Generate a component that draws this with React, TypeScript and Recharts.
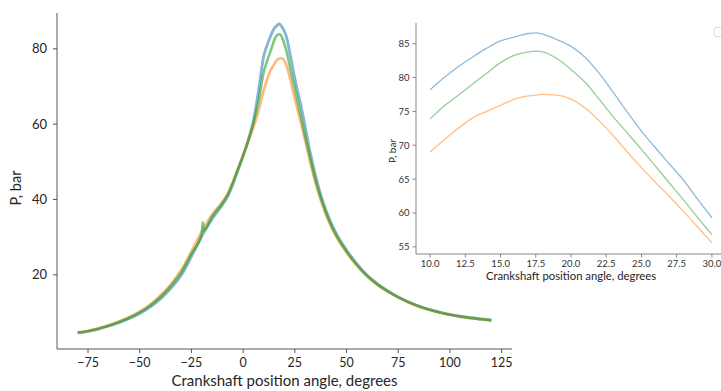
import React from 'react';
import { LineChart, Line, XAxis, YAxis, Label } from 'recharts';

// crank angle, degrees
const angles = [
  -80, -75, -70, -65, -60, -55, -50, -45, -40, -35, -30, -25, -20, -19.5, -19, -15, -10, -7.5, -5, -2.5,
  0, 2.5, 5, 7.5, 10, 11, 12, 13, 14, 15, 16, 17, 17.5, 18, 19, 20, 21, 22, 23, 24, 25, 26, 27, 28, 29, 30,
  32.5, 35, 37.5, 40, 42.5, 45, 50, 55, 60, 65, 70, 75, 80, 85, 90, 95, 100, 105, 110, 115, 120,
];

// pressure, bar
const blueP = [
  4.6, 5.0, 5.6, 6.4, 7.3, 8.4, 9.7, 11.4, 13.6, 16.4, 19.8, 24.8, 30.2, 30.7, 31.2, 34.8, 38.6, 40.8, 44.0, 47.8,
  51.5, 55.8, 61.0, 69.0, 78.2, 80.0, 81.6, 83.0, 84.3, 85.4, 86.0, 86.5, 86.6, 86.4, 85.6, 84.6, 83.0, 80.6, 77.8, 74.9, 72.1, 69.6, 67.2, 64.8, 62.0, 59.3,
  52.3, 46.3, 41.3, 37.2, 33.8, 31.0, 26.6, 22.9, 19.9, 17.6, 15.7, 14.1, 12.8, 11.7, 10.8, 10.1, 9.5, 9.0, 8.6, 8.3, 8.0,
];
const orangeP = [
  4.6, 5.1, 5.8, 6.6, 7.6, 8.8, 10.2, 12.1, 14.5, 17.5, 21.2, 26.2, 31.5, 32.0, 32.5, 36.0, 39.4, 41.5, 44.6, 48.2,
  51.8, 55.4, 59.2, 63.6, 69.0, 70.8, 72.5, 74.0, 75.0, 75.9, 76.8, 77.3, 77.4, 77.5, 77.4, 76.8, 75.5, 73.6, 71.4, 69.0, 66.7, 64.5, 62.4, 60.2, 57.9, 55.6,
  49.6, 44.3, 39.8, 36.0, 32.8, 30.1, 25.9, 22.4, 19.5, 17.3, 15.5, 14.0, 12.7, 11.6, 10.7, 10.0, 9.4, 8.9, 8.5, 8.2, 7.9,
];
const greenP = [
  4.7, 5.1, 5.7, 6.5, 7.5, 8.6, 10.0, 11.8, 14.1, 17.0, 20.6, 25.6, 30.9, 34.0, 31.8, 35.5, 39.0, 41.2, 44.4, 48.0,
  51.7, 55.7, 60.3, 66.2, 73.9, 75.8, 77.4, 79.0, 80.6, 82.2, 83.3, 83.8, 83.9, 83.8, 82.8, 81.2, 79.3, 76.8, 74.2, 71.8, 69.4, 66.9, 64.4, 61.9, 59.3, 56.8,
  50.8, 45.2, 40.5, 36.6, 33.3, 30.5, 26.2, 22.6, 19.7, 17.4, 15.6, 14.0, 12.7, 11.6, 10.7, 10.0, 9.4, 8.9, 8.5, 8.2, 7.9,
];

const mainTicksX = [-75, -50, -25, 0, 25, 50, 75, 100, 125];
const mainTicksY = [20, 40, 60, 80];
const insetTicksX = [10, 12.5, 15, 17.5, 20, 22.5, 25, 27.5, 30];
const insetTicksY = [55, 60, 65, 70, 75, 80, 85];

const rows = angles.map((a, i) => ({ angle: a, blue: blueP[i], orange: orangeP[i], green: greenP[i] }));
const insetRows = rows.filter(r => r.angle >= 10 && r.angle <= 30);

const FONT = 'Lato, "Open Sans", sans-serif';
const BLUE = '#1f77b4';
const ORANGE = '#ff7f0e';
const GREEN = '#2ca02c';

const minusFmt = (v: number) => (v < 0 ? '\u2212' + Math.abs(v) : String(v));

export default function App() {
  return (
    <div style={{ position: 'absolute', left: 0, top: 0, width: 721, height: 391, overflow: 'hidden', background: '#fff', fontFamily: FONT }}>
      <LineChart width={721} height={391} data={rows} margin={{ top: 13, right: 209, left: 7, bottom: 0 }}>
        <XAxis
          dataKey="angle"
          type="number"
          domain={[-90, 130]}
          ticks={mainTicksX}
          tickFormatter={minusFmt}
          height={42}
          stroke="#555"
          tickSize={4}
          tickMargin={5}
          tick={{ fill: '#262626', fontSize: 12.5, fontFamily: FONT }}
        >
          <Label value="Crankshaft position angle, degrees" position="insideBottom" offset={5} fill="#262626" fontSize={15} fontFamily={FONT} />
        </XAxis>
        <YAxis
          type="number"
          domain={[0.3, 89.5]}
          ticks={mainTicksY}
          width={50}
          stroke="#555"
          tickSize={4}
          tickMargin={6}
          tick={{ fill: '#262626', fontSize: 13, fontFamily: FONT }}
        >
          <Label
            content={() => (
              <text x={15} y={188} transform="rotate(-90 15 188)" textAnchor="middle" dominantBaseline="central" fill="#262626" fontSize={14.5} fontFamily={FONT}>
                P, bar
              </text>
            )}
          />
        </YAxis>
        <Line type="monotone" dataKey="blue" stroke={BLUE} strokeOpacity={0.55} strokeWidth={2.8} dot={false} isAnimationActive={false} />
        <Line type="monotone" dataKey="orange" stroke={ORANGE} strokeOpacity={0.55} strokeWidth={2.6} dot={false} isAnimationActive={false} />
        <Line type="monotone" dataKey="green" stroke={GREEN} strokeOpacity={0.6} strokeWidth={2.6} dot={false} isAnimationActive={false} />
      </LineChart>

      <div style={{ position: 'absolute', left: 380, top: 0, width: 346, height: 300 }}>
        <div style={{ position: 'absolute', left: 36, top: 23, width: 310, height: 231, background: '#fff' }} />
        <LineChart width={346} height={300} data={insetRows} margin={{ top: 23, right: 0, left: 6, bottom: 0 }}>
          <XAxis
            dataKey="angle"
            type="number"
            domain={[9, 31]}
            ticks={insetTicksX}
            tickFormatter={(v: number) => v.toFixed(1)}
            height={46}
            stroke="#888"
            tickSize={3.5}
            tickMargin={3}
            tick={{ fill: '#333', fontSize: 9.5, fontFamily: FONT }}
          >
            <Label value="Crankshaft position angle, degrees" position="insideBottom" offset={20} fill="#262626" fontSize={11.3} fontFamily={FONT} />
          </XAxis>
          <XAxis xAxisId="top" orientation="top" type="number" domain={[9, 31]} height={0} tick={false} tickLine={false} stroke="#888" />
          <YAxis
            type="number"
            domain={[53.95, 88.05]}
            ticks={insetTicksY}
            width={30}
            stroke="#888"
            tickSize={3.5}
            tickMargin={3}
            tick={{ fill: '#333', fontSize: 9.5, fontFamily: FONT }}
          >
            <Label
              content={() => (
                <text x={12} y={151} transform="rotate(-90 12 151)" textAnchor="middle" dominantBaseline="central" fill="#262626" fontSize={10} fontFamily={FONT}>
                  P, bar
                </text>
              )}
            />
          </YAxis>
          <Line type="monotone" dataKey="blue" stroke={BLUE} strokeOpacity={0.5} strokeWidth={1.3} dot={false} isAnimationActive={false} />
          <Line type="monotone" dataKey="orange" stroke={ORANGE} strokeOpacity={0.5} strokeWidth={1.3} dot={false} isAnimationActive={false} />
          <Line type="monotone" dataKey="green" stroke={GREEN} strokeOpacity={0.5} strokeWidth={1.3} dot={false} isAnimationActive={false} />
        </LineChart>
        <div style={{ position: 'absolute', left: 334, top: 27, width: 10, height: 8, border: '1px solid #ddd', borderRadius: 2, background: '#fff' }} />
      </div>
    </div>
  );
}
